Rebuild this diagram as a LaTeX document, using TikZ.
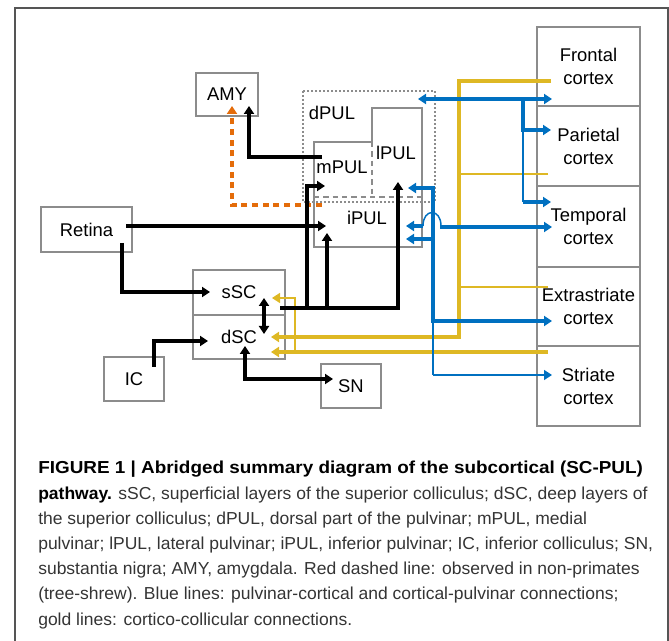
\documentclass[tikz,border=0pt]{standalone}
\usepackage{fontspec}
\setmainfont{Liberation Sans}
\newfontfamily\capfont[FakeStretch=1.01]{Liberation Sans}
\newfontfamily\capfontwide[FakeStretch=1.09]{Liberation Sans}
\usetikzlibrary{arrows.meta}

\definecolor{boxgray}{RGB}{140,140,140}
\definecolor{framegray}{RGB}{85,85,85}
\definecolor{pulgold}{RGB}{222,184,36}
\definecolor{pulblue}{RGB}{0,112,192}
\definecolor{amyorange}{RGB}{228,108,10}
\definecolor{captext}{RGB}{52,52,52}

\tikzset{
  lbl/.style={font=\fontsize{13.8pt}{17.25pt}\selectfont, inner sep=0pt, align=center},
  areabox/.style={draw=boxgray, line width=1.5pt, lbl},
  blk/.style={line width=2.6pt, black},
  bluethick/.style={line width=2.8pt, pulblue},
  bluethin/.style={line width=1.1pt, pulblue},
  goldthick/.style={line width=2.5pt, pulgold},
  goldthin/.style={line width=1.1pt, pulgold},
  orangedash/.style={line width=2.6pt, amyorange, dash pattern=on 4.5pt off 3.5pt},
  capline/.style={font=\capfont\fontsize{13pt}{18.75pt}\selectfont, inner sep=0pt, anchor=base west, text=captext},
  >={Triangle[length=6pt,width=7.5pt]}
}

\begin{document}
\begin{tikzpicture}[x=0.75pt,y=-0.75pt]
\clip (0,0) rectangle (669,641);

% outer frame of the figure
\draw[framegray, line width=1.1pt] (15,8) rectangle (668,720);

% cortical column
\node[areabox, minimum width=77.25pt, minimum height=59.25pt] (frontal) at (588.5,66.5) {Frontal\\cortex};
\node[areabox, minimum width=77.25pt, minimum height=60pt] (parietal) at (588.5,146) {Parietal\\cortex};
\node[areabox, minimum width=77.25pt, minimum height=60.75pt] (temporal) at (588.5,226.5) {Temporal\\cortex};
\node[areabox, minimum width=77.25pt, minimum height=59.25pt] (extrastriate) at (588.5,306.5) {Extrastriate\\cortex};
\node[areabox, minimum width=77.25pt, minimum height=60pt] (striate) at (588.5,386) {Striate\\cortex};

% subcortical boxes
\node[areabox, minimum width=46.5pt, minimum height=32.25pt] (amy) at (227,94.5) {AMY};
\node[areabox, minimum width=68.25pt, minimum height=33.75pt] (retina) at (86.5,229.5) {Retina};
\node[areabox, minimum width=69pt, minimum height=33.75pt] (ssc) at (239,292.5) {sSC};
\node[areabox, minimum width=69pt, minimum height=33pt] (dsc) at (239,337) {dSC};
\node[areabox, minimum width=45pt, minimum height=33pt] (ic) at (134,379) {IC};
\node[areabox, minimum width=45pt, minimum height=33pt] (sn) at (351,386) {SN};

% pulvinar: dorsal region (dotted), outline and subdivisions
\draw[boxgray, line width=1.2pt, dash pattern=on 1.3pt off 1.7pt] (303,91) rectangle (435,202);
\draw[boxgray, line width=1.5pt] (314,142) -- (372,142) -- (372,108) -- (422,108) -- (422,247) -- (314,247) -- cycle;
\draw[boxgray, line width=1.1pt, dash pattern=on 4pt off 3pt] (314,197) -- (422,197);
\draw[boxgray, line width=1.1pt, dash pattern=on 4pt off 3pt] (372,142) -- (372,197);
\node[lbl] (dpul) at (332,113) {dPUL};
\node[lbl] (mpul) at (342,167) {mPUL};
\node[lbl] (lpul) at (396,153) {lPUL};
\node[lbl] (ipul) at (367,218) {iPUL};

% connector end points
\coordinate (amyA) at (249,106);
\coordinate (amyB) at (232,106);
\coordinate (mpulOut) at (322,157);
\coordinate (mpulDash) at (322,205);
\coordinate (mpulIn) at (325,186);
\coordinate (ipulInL) at (326,226);
\coordinate (ipulInB) at (327,233);
\coordinate (lpulInB) at (398,182);
\coordinate (lpulInR) at (408,188);
\coordinate (dpulIn) at (418,99);
\coordinate (ipulInR1) at (406,226);
\coordinate (ipulInR2) at (406,239);
\coordinate (retinaR) at (126,226);
\coordinate (retinaB) at (122,243);
\coordinate (sscIn) at (210,292);
\coordinate (sscOut) at (280,308);
\coordinate (sscUp) at (264,298);
\coordinate (dscDown) at (264,334);
\coordinate (icTop) at (154,367);
\coordinate (dscInL) at (208,341);
\coordinate (dscInB) at (245,346);
\coordinate (snIn) at (333,379);
\coordinate (dscGold1) at (271,337);
\coordinate (dscGold2) at (271,352);
\coordinate (sscGold) at (272,298);
\coordinate (frontalL) at (551,81);
\coordinate (frontalIn) at (552,99);
\coordinate (parietalL) at (548,174);
\coordinate (parietalIn) at (551,130);
\coordinate (temporalIn1) at (551,202);
\coordinate (temporalIn2) at (552,227);
\coordinate (extraL) at (548,287);
\coordinate (extraIn) at (552,321);
\coordinate (striateL) at (548,352);
\coordinate (striateIn) at (552,375);

% cortico-collicular connections (gold)
\draw[goldthin] (parietalL) -- (459,174);
\draw[goldthin] (extraL) -- (459,287);
\draw[goldthick, ->] (frontalL) -- (459,81) -- (459,337) -- (dscGold1);
\draw[goldthick, ->] (striateL) -- (dscGold2);
\draw[goldthin, ->] (295,352) -- (295,298) -- (sscGold);

% pulvinar-cortical connections (blue)
\draw[bluethick, <->] (dpulIn) -- (frontalIn);
\draw[bluethick, ->] (523,99) -- (523,130) -- (parietalIn);
\draw[bluethin] (523,130) -- (523,202);
\draw[bluethick, ->] (523,202) -- (temporalIn1);
\draw[bluethin] (433,321) -- (433,375);
\draw[bluethin, ->] (433,375) -- (striateIn);
\draw[bluethick, <->] (lpulInR) -- (433,188) -- (433,321) -- (extraIn);
\draw[bluethick, ->] (433,239) -- (ipulInR2);
\draw[bluethick, ->] (423,226) -- (ipulInR1);
\draw[bluethin] (423,226) .. controls (423,208) and (441,208) .. (441,226);
\draw[bluethick, ->] (440,227) -- (temporalIn2);

% tree-shrew projection (orange, dashed)
\draw[orangedash, ->] (mpulDash) -- (232,205) -- (amyB);

% subcortical connections (black)
\draw[blk, ->] (mpulOut) -- (249,157) -- (amyA);
\draw[blk, ->] (retinaR) -- (ipulInL);
\draw[blk, ->] (retinaB) -- (122,292) -- (sscIn);
\draw[blk, ->] (sscOut) -- (398,308) -- (lpulInB);
\draw[blk, ->] (307,308) -- (307,186) -- (mpulIn);
\draw[blk, ->] (327,308) -- (ipulInB);
\draw[blk, <->] (sscUp) -- (dscDown);
\draw[blk, ->] (icTop) -- (154,341) -- (dscInL);
\draw[blk, <->] (dscInB) -- (245,379) -- (snIn);

% caption
\node[capline, text=black, font=\capfontwide\fontsize{13pt}{18.75pt}\selectfont] (cap1) at (38,474) {\bfseries FIGURE 1 | Abridged summary diagram of the subcortical (SC-PUL)};
\node[capline] (cap2) at (38,499.2) {{\bfseries\color{black}pathway.} sSC, superficial layers of the superior colliculus; dSC, deep layers of};
\node[capline] (cap3) at (38,524.4) {the superior colliculus; dPUL, dorsal part of the pulvinar; mPUL, medial};
\node[capline] (cap4) at (38,549.6) {pulvinar; lPUL, lateral pulvinar; iPUL, inferior pulvinar; IC, inferior colliculus; SN,};
\node[capline] (cap5) at (38,574.8) {substantia nigra; AMY, amygdala. Red dashed line: observed in non-primates};
\node[capline] (cap6) at (38,600) {(tree-shrew). Blue lines: pulvinar-cortical and cortical-pulvinar connections;};
\node[capline] (cap7) at (38,625.2) {gold lines: cortico-collicular connections.};
\end{tikzpicture}
\end{document}
